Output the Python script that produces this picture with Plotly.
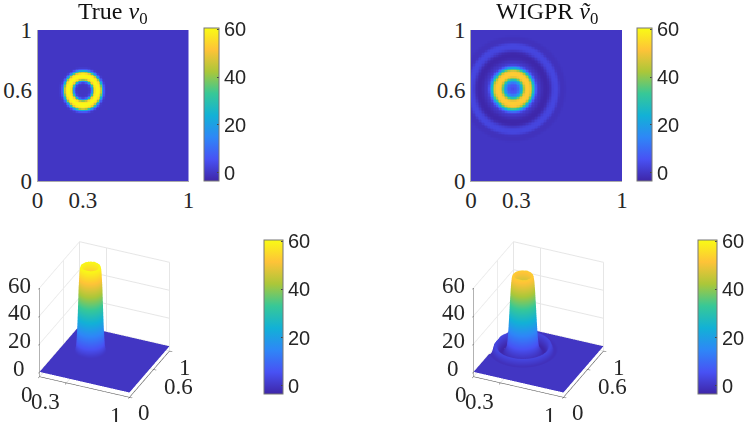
import numpy as np
import plotly.graph_objects as go

# radial profiles, one value every 0.01 from the ring centre
radius = [i / 100 for i in range(0, 40)]
true_profile = [0, 0, 0, 0, 0.5, 3, 14, 40, 56, 60, 60, 58, 46, 24, 7, 1] + [0] * 24
wigpr_profile = [4, 5, 6, 8, 12, 18, 28, 39, 49, 53, 53, 52, 47, 35, 22, 10, 3, 0.5, -0.5, -1.5,
                 -2.5, -3, -3.2, -3, -2, 0, 2, 3, 3.2, 3, 1.5, -0.5, -1, -1, -0.8, -0.3, 0,
                 0, 0, 0]

true_center = (0.30, 0.60)
wigpr_center = (0.277, 0.61)

x_ticks = [0, 0.3, 1]
y_ticks = [0, 0.6, 1]
z_ticks = [0, 20, 40, 60]
cbar_ticks = [0, 20, 40, 60]

# parula
parula = [[0.0, "rgb(62,38,168)"], [1 / 7, "rgb(72,82,244)"], [2 / 7, "rgb(46,135,247)"],
          [3 / 7, "rgb(18,177,214)"], [4 / 7, "rgb(55,200,151)"], [5 / 7, "rgb(171,199,57)"],
          [6 / 7, "rgb(254,195,56)"], [1.0, "rgb(249,251,21)"]]

W, H = 747, 422
SERIF = "Liberation Serif"
grid = np.linspace(0, 1, 101)
ZMIN = -3.4


def field(center, profile):
    xx, yy = np.meshgrid(grid, grid)
    r = np.hypot(xx - center[0], yy - center[1])
    return np.interp(r, radius, profile)


z_true = field(true_center, true_profile)
z_wigpr = field(wigpr_center, wigpr_profile)


def cbar(x0, top, bottom, size):
    return dict(x=x0 / W, xanchor="left", thicknessmode="pixels", thickness=size[0],
                lenmode="fraction", len=(bottom - top) / H,
                y=1 - bottom / H, yanchor="bottom", tickvals=cbar_ticks, ticks="inside",
                ticklen=2, tickcolor="#444", outlinecolor="#777", outlinewidth=1, xpad=0, ypad=0,
                tickfont=dict(family="Liberation Sans", size=20, color="#262626"))


fig = go.Figure()
common = dict(colorscale=parula, zmin=ZMIN, zmax=60.5)
fig.add_trace(go.Heatmap(x=grid, y=grid, z=z_true, xaxis="x", yaxis="y",
                         colorbar=cbar(204, 28, 181, (15, 20)), **common))
fig.add_trace(go.Heatmap(x=grid, y=grid, z=z_wigpr, xaxis="x2", yaxis="y2",
                         colorbar=cbar(637, 28, 181, (15, 20)), **common))

surf = dict(colorscale=parula, cmin=ZMIN, cmax=60.5, lighting=dict(ambient=1, diffuse=0, specular=0, fresnel=0),
            hoverinfo="skip")
fig.add_trace(go.Surface(x=grid, y=grid, z=z_true, scene="scene",
                         colorbar=cbar(264, 240, 394, (19, 20)), **surf))
fig.add_trace(go.Surface(x=grid, y=grid, z=z_wigpr, scene="scene2",
                         colorbar=cbar(698, 240, 394, (19, 20)), **surf))


def axis2d(x0, x1, ticks, anchor):
    return dict(domain=[x0, x1], range=[0, 1], tickvals=ticks, ticktext=[str(t) for t in ticks],
                anchor=anchor, ticks="", showgrid=False, zeroline=False, showline=True, linecolor="#aaa",
                linewidth=1, tickfont=dict(family=SERIF, size=23, color="#262626"))


fig.update_layout(
    xaxis=dict(axis2d(37.5 / W, 188.5 / W, x_ticks, "y"), ticklabelstandoff=-2),
    yaxis=axis2d(1 - 181 / H, 1 - 30 / H, y_ticks, "x"),
    xaxis2=dict(axis2d(471 / W, 622 / W, x_ticks, "y2"), ticklabelstandoff=-2),
    yaxis2=axis2d(1 - 181 / H, 1 - 30 / H, y_ticks, "x2"),
)


def axis3d(ticks):
    return dict(tickvals=ticks, showticklabels=False, showbackground=False,
                gridcolor="#e6e6e6", showspikes=False, title=dict(text=""), zeroline=False,
                showline=True, linecolor="#444", ticks="outside", ticklen=3, tickcolor="#444")


def tick_labels():
    font = dict(family=SERIF, size=23, color="#262626")
    out = []
    x_shift = {0: (-12, -18), 0.3: (-21, -19), 1: (-13, -18)}
    for t in x_ticks:
        out.append(dict(x=t, y=0, z=ZMIN, text=str(t), showarrow=False, font=font,
                        xshift=x_shift[t][0], yshift=x_shift[t][1]))
    y_shift = {0: (15, -15), 0.6: (25, -17), 1: (15, -17)}
    for t in y_ticks:
        out.append(dict(x=1, y=t, z=ZMIN, text=str(t), showarrow=False, font=font,
                        xshift=y_shift[t][0], yshift=y_shift[t][1]))
    for t in z_ticks:
        out.append(dict(x=0, y=0, z=t, text=str(t), showarrow=False, font=font, xshift=-20, yshift=3))
    return out


def scene(x0, x1, y0, y1):
    a = np.radians(-66)
    p = np.radians(31)
    d = 2.02
    return dict(domain=dict(x=[x0 / W, x1 / W], y=[1 - y1 / H, 1 - y0 / H]),
                aspectmode="manual", aspectratio=dict(x=1, y=1, z=1.05),
                camera=dict(projection=dict(type="orthographic"), up=dict(x=0, y=0, z=1),
                            eye=dict(x=d * np.cos(p) * np.cos(a), y=d * np.cos(p) * np.sin(a), z=d * np.sin(p))),
                xaxis=dict(axis3d(x_ticks), range=[0, 1]),
                yaxis=dict(axis3d(y_ticks), range=[0, 1]),
                zaxis=dict(axis3d(z_ticks), range=[ZMIN, 60]),
                annotations=tick_labels())


fig.update_layout(scene=scene(0, 209, 221, 418), scene2=scene(434, 643, 221, 418))

titles = [("True <i>v</i><sub>0</sub>", 113), ("WIGPR <i>ṽ</i><sub>0</sub>", 547)]
fig.update_layout(
    width=W, height=H, margin=dict(l=0, r=0, t=0, b=0, autoexpand=False), paper_bgcolor="white",
    plot_bgcolor="white",
    annotations=[dict(text=t, x=px / W, y=1 - 30 / H, xref="paper", yref="paper", xanchor="center",
                      yanchor="bottom", showarrow=False,
                      font=dict(family=SERIF, size=24, color="#111")) for t, px in titles],
)

fig.write_html("out.html", config=dict(displayModeBar=False), post_script="document.body.style.margin='0';")
